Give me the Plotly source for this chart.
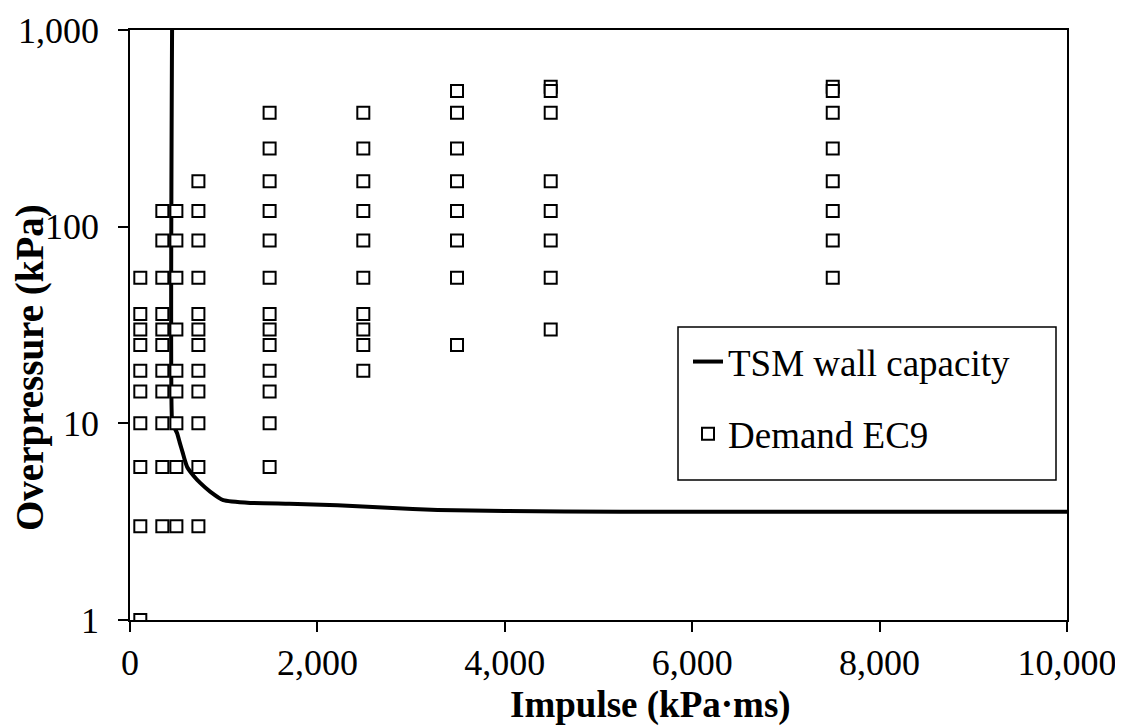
import plotly.graph_objects as go

# ---- data ----
capacity_impulse = [449, 449, 470, 503, 530, 564, 585, 610, 680, 749, 855, 995, 1283, 1700, 2214, 2750, 3283, 4000, 5240, 10000]
capacity_pressure = [1000, 10.3, 9.6, 8.9, 8.0, 7.06, 6.5, 6.0, 5.4, 4.98, 4.5, 4.07, 3.94, 3.9, 3.83, 3.72, 3.63, 3.58, 3.55, 3.55]

col_impulse = [110, 345, 495, 730, 1490, 2490, 3490, 4490, 7500]
col_pressures = [
    [55, 36, 30, 25, 18.5, 14.5, 10, 6, 3, 1],
    [120, 85, 55, 36, 30, 25, 18.5, 14.5, 10, 6, 3],
    [120, 85, 55, 30, 18.5, 14.5, 10, 6, 3],
    [170, 120, 85, 55, 36, 30, 25, 18.5, 14.5, 10, 6, 3],
    [380, 250, 170, 120, 85, 55, 36, 30, 25, 18.5, 14.5, 10, 6],
    [380, 250, 170, 120, 85, 55, 36, 30, 25, 18.5],
    [490, 380, 250, 170, 120, 85, 55, 25],
    [515, 490, 380, 170, 120, 85, 55, 30],
    [515, 490, 380, 250, 170, 120, 85, 55],
]

y_tickvals = [1, 10, 100, 1000]
y_ticktext = ["1", "10", "100", "1,000"]
x_tickvals = [0, 2000, 4000, 6000, 8000, 10000]
x_ticktext = ["0", "2,000", "4,000", "6,000", "8,000", "10,000"]

demand_impulse = []
demand_pressure = []
for imp, ps in zip(col_impulse, col_pressures):
    for p in ps:
        demand_impulse.append(imp)
        demand_pressure.append(p)

FONT = "Times New Roman, Liberation Serif, serif"

fig = go.Figure()
fig.add_trace(go.Scatter(
    x=capacity_impulse, y=capacity_pressure, mode="lines",
    name="TSM wall capacity", legendgroup="a",
    line=dict(color="black", width=4, shape="spline", smoothing=0.4),
))
fig.add_trace(go.Scatter(
    x=demand_impulse, y=demand_pressure, mode="markers",
    name="Demand EC9", legendgroup="b",
    marker=dict(symbol="square", size=12, color="white",
                line=dict(color="black", width=2)),
))

# page body adds ~8px offset, so the figure is slightly smaller and shifted
fig.update_layout(
    width=1115, height=719,
    margin=dict(l=122, r=56, t=22, b=107),
    paper_bgcolor="white", plot_bgcolor="white",
    font=dict(family=FONT, size=36, color="black"),
    showlegend=True,
    legend=dict(
        x=(688 - 130) / 937, y=(620 - 331) / 590, xanchor="left", yanchor="top",
        borderwidth=0, bgcolor="rgba(0,0,0,0)",
        font=dict(family=FONT, size=37, color="black"),
        tracegroupgap=21, traceorder="grouped",
        itemwidth=30,
    ),
    xaxis=dict(
        range=[0, 10000], tickvals=x_tickvals, ticktext=x_ticktext,
        showline=True, linecolor="black", linewidth=1.5, mirror=True,
        ticks="outside", ticklen=10, tickcolor="black", tickwidth=1.5,
        showgrid=False, zeroline=False, automargin=False,
        tickfont=dict(family=FONT, size=36),
    ),
    yaxis=dict(
        type="log", range=[0, 3], tickvals=y_tickvals, ticktext=y_ticktext,
        showline=True, linecolor="black", linewidth=1.5, mirror=True,
        ticks="outside", ticklen=10, tickcolor="black", tickwidth=1.5,
        showgrid=False, zeroline=False, automargin=False,
        tickfont=dict(family=FONT, size=36),
        ticklabelstandoff=12,
    ),
)

# legend frame
fig.add_shape(
    type="rect", xref="paper", yref="paper",
    x0=(678 - 130) / 937, x1=(1056 - 130) / 937,
    y0=(620 - 480) / 590, y1=(620 - 327) / 590,
    line=dict(color="black", width=1.5), fillcolor="white", layer="above",
)

# axis titles
fig.add_annotation(
    text="<b>Impulse (kPa·ms)</b>", xref="paper", yref="paper",
    x=(650 - 130) / 937, y=(620 - 705) / 590, xanchor="center", yanchor="middle",
    showarrow=False, font=dict(family=FONT, size=37),
)
fig.add_annotation(
    text="<b>Overpressure (kPa)</b>", xref="paper", yref="paper",
    x=(30 - 130) / 937, y=(620 - 368) / 590, xanchor="center", yanchor="middle",
    textangle=-90, showarrow=False, font=dict(family=FONT, size=39),
)

# chart title, mostly cut off at the top edge as in the reference
fig.add_annotation(
    text="(b)", xref="paper", yref="paper", x=(552 - 130) / 937, y=1.0,
    yshift=24, yanchor="bottom", showarrow=False,
    font=dict(family=FONT, size=34),
)

fig.write_html("out.html")
